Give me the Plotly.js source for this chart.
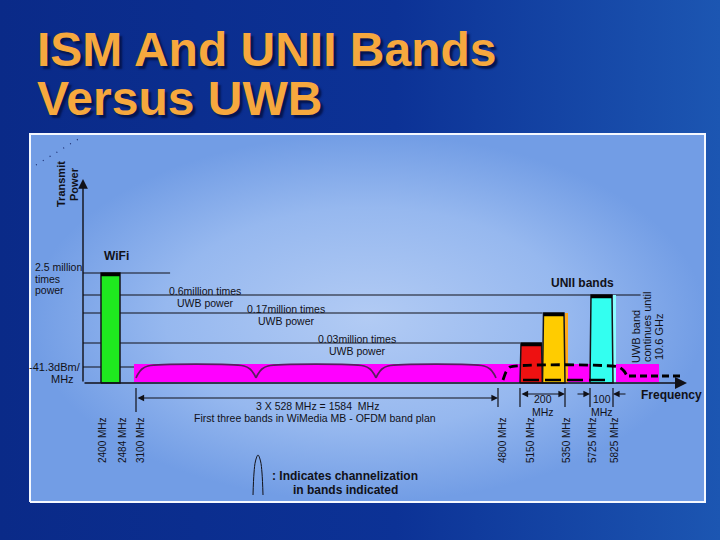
<!DOCTYPE html>
<html>
<head>
<meta charset="utf-8">
<script src="https://cdn.plot.ly/plotly-3.0.1.min.js"></script>
<style>
html,body{margin:0;padding:0;background:#0b2d8c;}
#chart{width:720px;height:540px;}
</style>
</head>
<body>
<div id="chart"></div>
<script>
// ---------------- DATA ----------------
// Frequency tick labels on the (schematic, broken) frequency axis
const tickFreqs  = [2400, 2484, 3100, 4800, 5150, 5350, 5725, 5825];
const tickLabels = ['2400 MHz','2484 MHz','3100 MHz','4800 MHz','5150 MHz','5350 MHz','5725 MHz','5825 MHz'];
const dimTickFreqs = [3100, 4800, 5150, 5350, 5725, 5825];

// Narrowband systems (ISM WiFi + UNII bands)
const bandNames    = ['WiFi', 'UNII low', 'UNII mid', 'UNII upper'];
const bandLo       = [2400, 5150, 5250, 5725];
const bandHi       = [2484, 5250, 5350, 5825];
const bandLevelIdx = [4, 1, 2, 3];
const bandColors   = ['#1fe81f', '#ee1111', '#ffcc00', '#33fff0'];
const bandEdgeGlow = [null, null, '#ffa91a', '#8afcff'];

// Transmit power levels relative to UWB
const levelNames    = ['-41.3dBm/MHz (UWB)', '0.03 million times UWB power', '0.17 million times UWB power', '0.6 million times UWB power', '2.5 million times power'];
const levelMultiple = [1, 0.03e6, 0.17e6, 0.6e6, 2.5e6];
const levelLineEnd  = [3100, 5150, 5250, 5930, 3250];   // MHz where each reference line stops

// UWB (WiMedia MB-OFDM)
const uwbStart = 3100, uwbDrawnEnd = 6000, uwbEnd = 10600;
const ofdmBandCount = 3, ofdmBandWidth = 528;

// ---------------- SCHEMATIC SCALES ----------------
// the drawing uses a broken frequency axis: anchor frequencies -> axis slots
const axisFreqs = [0, 2400, 2484, 3100, 4684, 4800, 5150, 5350, 5725, 5825, 6000, 10600];
const axisSlots = [0, 18, 37, 53, 413, 415, 437, 482, 507, 530, 576, 604];
// schematic (non-linear) power axis: level index -> axis slot
const levelSlots = [16, 40, 70, 88, 110];

function fx(f){
  for (let i = 1; i < axisFreqs.length; i++){
    if (f <= axisFreqs[i]){
      const t = (f - axisFreqs[i-1]) / (axisFreqs[i] - axisFreqs[i-1]);
      return axisSlots[i-1] + t * (axisSlots[i] - axisSlots[i-1]);
    }
  }
  return axisSlots[axisSlots.length-1];
}

const FONT = 'Liberation Sans, Arial, Helvetica, sans-serif';
const INK = '#111118';
const traces = [];

// slide background
traces.push({x:[-83,637,637,-83,-83], y:[-157,-157,383,383,-157], mode:'lines', fill:'toself',
  line:{width:0}, fillcolor:'#0c3090',
  fillgradient:{type:'horizontal', colorscale:[[0,'#0a2a88'],[0.55,'#0c3296'],[1,'#1c56b2']]}, hoverinfo:'skip'});
// light panel
traces.push({x:[-53,622,622,-53,-53], y:[-119,-119,249,249,-119], mode:'lines', fill:'toself',
  line:{width:2, color:'#f4f8ff'}, fillcolor:'#8db0ec',
  fillgradient:{type:'radial', colorscale:[[0,'#b2cbf4'],[0.6,'#96b8ef'],[1,'#729de5']]}, hoverinfo:'skip'});

// reference level lines
(function(){
  const xs = [], ys = [];
  levelSlots.forEach((lv, i) => { xs.push(0, fx(levelLineEnd[i]), null); ys.push(lv, lv, null); });
  traces.push({x:xs, y:ys, mode:'lines', line:{color:INK, width:1.2}, hoverinfo:'skip'});
})();

// UWB band (magenta)
(function(){
  const x0 = fx(uwbStart) - 2, x1 = fx(uwbDrawnEnd), top = levelSlots[0] + 3;
  traces.push({x:[x0,x1,x1,x0,x0], y:[1,1,top,top,1], mode:'lines', fill:'toself',
    fillcolor:'#ff00ff', line:{width:0}, hoverinfo:'skip'});
})();

// MB-OFDM channel outlines
for (let k = 0; k < ofdmBandCount; k++){
  const a = fx(uwbStart + k*ofdmBandWidth), b = fx(uwbStart + (k+1)*ofdmBandWidth);
  const top = levelSlots[0] + 1;
  traces.push({x:[a, a+2, a+6, a+12, b-12, b-6, b-2, b],
               y:[5, 9, 14, top, top, 14, 9, 5],
               mode:'lines', line:{color:'#5a1e5e', width:1.7, shape:'spline', smoothing:0.8}, hoverinfo:'skip'});
}

// narrowband bars
bandLo.forEach((lo, i) => {
  const a = fx(lo), b = fx(bandHi[i]), top = levelSlots[bandLevelIdx[i]];
  const t = i > 0 ? 1 : 0;
  if (bandEdgeGlow[i]) {
    traces.push({x:[b+1.5, b+1.5], y:[0, top], mode:'lines', line:{color:bandEdgeGlow[i], width:3}, hoverinfo:'skip'});
  }
  traces.push({x:[a, a+t, b-t, b, a], y:[0, top, top, 0, 0], mode:'lines', fill:'toself',
    fillcolor:bandColors[i], line:{color:'#15151a', width:1.5}, hoverinfo:'skip', name:bandNames[i]});
  traces.push({x:[a+t, b-t], y:[top-1.5, top-1.5], mode:'lines', line:{color:'#000', width:3.5}, hoverinfo:'skip'});
});

// UWB channel outline over UNII region (dashed) and continuation
traces.push({x:[fx(4800)+5, fx(4800)+8, fx(4800)+12, fx(5825)+6, fx(5825)+11, fx(5825)+14],
             y:[3, 11, levelSlots[0], levelSlots[0], 12, 7], mode:'lines',
             line:{color:'#000', width:2.8, dash:'9px,5px', shape:'spline', smoothing:0.6}, hoverinfo:'skip'});
traces.push({x:[fx(5825)+16, fx(uwbEnd)-6], y:[7, 7], mode:'lines',
             line:{color:'#000', width:2.8, dash:'7px,4px'}, hoverinfo:'skip'});
traces.push({x:[fx(5150)+3, fx(5825)-3], y:[3, 3], mode:'lines',
             line:{color:'#000', width:2.5, dash:'16px,6px'}, hoverinfo:'skip'});

// dimension tick marks under the axis
(function(){
  const xs = [], ys = [];
  dimTickFreqs.forEach(f => { xs.push(fx(f), fx(f), null); ys.push(-5, f === uwbStart ? -29 : -24, null); });
  traces.push({x:xs, y:ys, mode:'lines', line:{color:INK, width:1.2}, hoverinfo:'skip'});
})();

// legend glyph for channelization
traces.push({x:[170, 171, 172.5, 175, 177.5, 179, 180], y:[-112, -90, -78, -72, -78, -90, -112],
             mode:'lines', line:{color:INK, width:1, shape:'spline'}, hoverinfo:'skip'});

// ---------------- ANNOTATIONS ----------------
function note(x, y, text, size, extra){
  return Object.assign({x, y, xref:'x', yref:'y', text, showarrow:false, xanchor:'center', yanchor:'middle',
    font:{family:FONT, size, color:INK}}, extra || {});
}
function arrow(x, y, ax, ay, extra){
  return Object.assign({x, y, ax, ay, xref:'x', yref:'y', axref:'x', ayref:'y', text:'', showarrow:true,
    arrowhead:2, arrowsize:1.1, arrowwidth:1.2, arrowcolor:INK, standoff:0, startstandoff:0}, extra || {});
}

const ann = [];
// title
const titleFont = {family:FONT, size:48, color:'#f6a83e', shadow:'3px 3px 2px #051550'};
ann.push({x:-48, y:334, xref:'x', yref:'y', xanchor:'left', yanchor:'middle', showarrow:false,
          text:'<b>ISM And UNII Bands</b>', font:titleFont});
ann.push({x:-48, y:285, xref:'x', yref:'y', xanchor:'left', yanchor:'middle', showarrow:false,
          text:'<b>Versus UWB</b>', font:titleFont});

// axes
ann.push(arrow(0, 204, 0, 0, {arrowwidth:1.4, arrowsize:1.4}));
ann.push(arrow(fx(uwbEnd), 0, 0, 0, {arrowwidth:1.6, arrowsize:1.5}));
ann.push(note(-17, 199, '<b>Transmit</b>', 11, {textangle:-90, xshift:-5}));
ann.push(note(-17, 199, '<b>Power</b>', 11, {textangle:-90, xshift:8}));

// level labels
const topLv = levelSlots[4];
ann.push(note(-50, topLv + 6, '2.5 million', 10.5, {xanchor:'left'}));
ann.push(note(-50, topLv - 5.5, 'times', 10.5, {xanchor:'left'}));
ann.push(note(-50, topLv - 17, 'power', 10.5, {xanchor:'left'}));
ann.push(note(-28, levelSlots[0] + 0.5, '-41.3dBm/', 11));
ann.push(note(-21, levelSlots[0] - 11.5, 'MHz', 11));
const lvLabelX = [null, 274, 203, 122];
[1, 2, 3].forEach(i => {
  const m = (levelMultiple[i] / 1e6).toString();
  ann.push(note(lvLabelX[i], levelSlots[i] + 4, m + 'million times', 10.5));
  ann.push(note(lvLabelX[i], levelSlots[i] - 7.5, 'UWB power', 10.5));
});

// band group labels
ann.push(note((fx(bandLo[0]) + fx(bandHi[0])) / 2, 127, '<b>' + bandNames[0] + '</b>', 12, {xshift:6}));
ann.push(note((fx(bandLo[1]) + fx(bandHi[3])) / 2, 100, '<b>UNII bands</b>', 12, {xshift:16}));
ann.push(note(553, 46, 'UWB band', 11, {textangle:-90}));
ann.push(note(564, 56, 'continues until', 11, {textangle:-90}));
ann.push(note(576, 46, (uwbEnd/1000).toFixed(1) + ' GHz', 11, {textangle:-90}));
ann.push(note(588, -12, '<b>Frequency</b>', 12));

// frequency tick labels
const tickLabelNudge = [1, 2, 4, 4, 10, 1, 2, 1];
tickFreqs.forEach((f, i) => ann.push(note(fx(f) + tickLabelNudge[i], -57, tickLabels[i], 10, {textangle:-90})));

// dimension arrows
ann.push(arrow(fx(4800), -15, fx(uwbStart), -15, {arrowside:'end+start', startarrowhead:2, startarrowsize:1.1}));
ann.push(note((fx(uwbStart) + fx(4800)) / 2, -23,
  ofdmBandCount + ' X ' + ofdmBandWidth + ' MHz = ' + (ofdmBandCount * ofdmBandWidth) + '  MHz', 10.5));
ann.push(note((fx(uwbStart) + fx(4800)) / 2, -35, 'First three bands in WiMedia MB - OFDM band plan', 10.5, {xshift:-2}));

ann.push(arrow(fx(5350), -11, fx(5150), -11, {arrowside:'end+start', startarrowhead:2, startarrowsize:1.1}));
ann.push(note(fx(5250), -16, (5350 - 5150).toString(), 10.5));
ann.push(note(fx(5250), -29, 'MHz', 10.5));
ann.push(arrow(fx(5725), -11, fx(5725) - 14, -11));
ann.push(arrow(fx(5825), -11, fx(5825) + 14, -11));
ann.push(note(fx(5775), -16, (5825 - 5725).toString(), 10.5));
ann.push(note(fx(5775), -29, 'MHz', 10.5));

// channelization legend
ann.push(note(262, -93, '<b>: Indicates channelization</b>', 12));
ann.push(note(262, -107, '<b>in bands indicated</b>', 12));

const layout = {
  width:720, height:540,
  margin:{l:0, r:0, t:0, b:0, pad:0},
  paper_bgcolor:'#0b2d8c', plot_bgcolor:'rgba(0,0,0,0)',
  showlegend:false, hovermode:false,
  xaxis:{range:[-83, 637], visible:false, fixedrange:true},
  yaxis:{range:[-157, 383], visible:false, fixedrange:true},
  annotations:ann,
  shapes:[{type:'line', xref:'x', yref:'y', x0:-47, y0:218, x1:-3, y1:245,
           line:{color:'#1a2a6a', width:1.2, dash:'1px,7px'}}]
};

Plotly.newPlot('chart', traces, layout, {staticPlot:true, displayModeBar:false});
</script>
</body>
</html>
